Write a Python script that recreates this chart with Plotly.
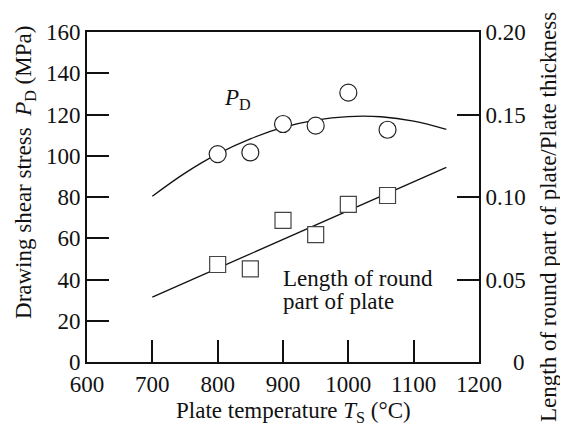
import plotly.graph_objects as go

# measured points
temp_pd = [800, 850, 900, 950, 1000, 1060]
pd_mpa = [100.8, 101.6, 115.4, 114.6, 130.6, 112.6]

temp_len = [800, 850, 900, 950, 1000, 1060]
len_ratio = [0.0591, 0.0564, 0.0858, 0.0772, 0.0955, 0.1009]

# fitted curves
curve_t = [700, 750, 800, 850, 900, 950, 1000, 1050, 1100, 1150]
curve_pd = [80.4, 91.6, 100.9, 108.2, 113.7, 117.3, 119.0, 118.9, 116.8, 112.8]

line_t = [700, 1150]
line_len = [0.0393, 0.118]

x_ticks = [600, 700, 800, 900, 1000, 1100, 1200]
y_ticks = [0, 20, 40, 60, 80, 100, 120, 140, 160]
y2_ticks = [0, 0.05, 0.10, 0.15, 0.20]
y2_labels = ["", "0.05", "0.10", "0.15", "0.20"]

FONT = "Liberation Serif, Times New Roman, serif"
FS = 23

fig = go.Figure()
fig.add_trace(go.Scatter(x=curve_t, y=curve_pd, mode="lines", line_shape="spline",
                         line=dict(color="#111", width=1.3), showlegend=False))
fig.add_trace(go.Scatter(x=line_t, y=line_len, mode="lines", yaxis="y2",
                         line=dict(color="#111", width=1.3), showlegend=False))
fig.add_trace(go.Scatter(x=temp_pd, y=pd_mpa, mode="markers",
                         marker=dict(symbol="circle", size=17, color="white",
                                     line=dict(color="#222", width=1.2)),
                         showlegend=False))
fig.add_trace(go.Scatter(x=temp_len, y=len_ratio, mode="markers", yaxis="y2",
                         marker=dict(symbol="square", size=16, color="white",
                                     line=dict(color="#444", width=1.2)),
                         showlegend=False))

axis_common = dict(showgrid=False, zeroline=False, ticks="inside", ticklen=22,
                   tickwidth=2, tickcolor="#111", linecolor="#111", linewidth=2,
                   showline=True, tickfont=dict(family=FONT, size=FS, color="#111"))

# the page body has an 8px margin, so the figure is shifted by 8px
fig.update_layout(
    width=568, height=434,
    margin=dict(l=79, r=97, t=19, b=80),
    plot_bgcolor="white", paper_bgcolor="white",
    font=dict(family=FONT, size=FS, color="#111"),
    xaxis=dict(range=[600, 1200], tickvals=x_ticks, mirror=True, **axis_common),
    yaxis=dict(range=[0, 160], tickvals=y_ticks, **axis_common),
    yaxis2=dict(range=[0, 0.2], tickvals=y2_ticks, ticktext=y2_labels,
                overlaying="y", side="right", **axis_common),
    annotations=[
        dict(text="<i>P</i><sub>D</sub>", x=830, y=127.5, xref="x", yref="y",
             showarrow=False),
        dict(text="Length of round", x=897, y=40.6, xref="x", yref="y",
             xanchor="left", yanchor="middle", showarrow=False),
        dict(text="part of plate", x=897, y=29.1, xref="x", yref="y",
             xanchor="left", yanchor="middle", showarrow=False),
        dict(text="0", x=1.122, y=0, xref="paper", yref="paper", xanchor="right",
             yanchor="middle", showarrow=False),
        dict(text="Drawing shear stress  <i>P</i><sub>D</sub> (MPa)", x=-0.158, y=0.573,
             xref="paper", yref="paper", xanchor="center", yanchor="middle",
             textangle=-90, showarrow=False),
        dict(text="Length of round part of plate/Plate thickness", x=1.179, y=0.44,
             xref="paper", yref="paper", xanchor="center", yanchor="middle",
             textangle=-90, showarrow=False),
        dict(text="Plate temperature <i>T</i><sub>S</sub> (°C)", x=0.528, y=-0.152,
             xref="paper", yref="paper", xanchor="center", yanchor="middle",
             showarrow=False),
    ],
)

fig.write_html("out.html")
